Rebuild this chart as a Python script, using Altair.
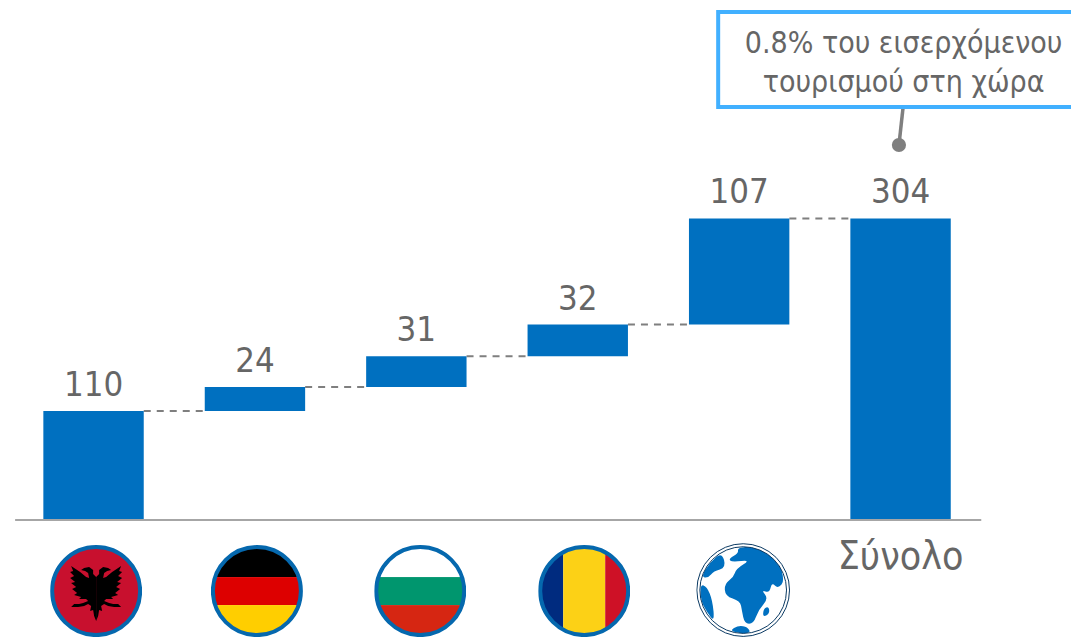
import base64
import altair as alt
import pandas as pd

# --- values ---
categories = ["Αλβανία", "Γερμανία", "Βουλγαρία", "Ρουμανία", "Άλλες", "Σύνολο"]
values = [110, 24, 31, 32, 107, 304]
positions = [0, 1, 2, 3, 4, 5]
BAR_HALF = 0.311
FONT = "DejaVu Sans Condensed"
TEXT = "#666666"
BLUE = "#0070c0"
GREY = "#7f7f7f"

starts, ends, c = [], [], 0
for i, v in enumerate(values):
    if i == len(values) - 1:
        starts.append(0); ends.append(v)
    else:
        starts.append(c); ends.append(c + v); c += v

bars = pd.DataFrame({"c": categories, "pos": positions, "y0": starts, "y1": ends, "v": values})
bars["x0"] = bars.pos - BAR_HALF
bars["x1"] = bars.pos + BAR_HALF

conn = pd.DataFrame({
    "x0": [p + BAR_HALF for p in positions[:-1]],
    "x1": [p + 1 - BAR_HALF for p in positions[:-1]],
    "y": ends[:-1],
})

def svg_uri(body, vb="0 0 92 92"):
    s = f'<svg xmlns="http://www.w3.org/2000/svg" viewBox="{vb}">{body}</svg>'
    return "data:image/svg+xml;base64," + base64.b64encode(s.encode()).decode()

clip = '<defs><clipPath id="c"><circle cx="46" cy="46" r="44"/></clipPath></defs>'
ring = '<circle cx="46" cy="46" r="44" fill="none" stroke="#0568ae" stroke-width="4"/>'
half = ("M46 32 L43 29 L43 25 L39 22 L34 23 L31 25 L35 26 L38 28 L39 33 L36 32 L30 27 L21 21 L23 26 "
        "L20 27 L24 31 L20 33 L25 37 L21 38 L26 42 L22 44 L27 48 L24 50 L31 52 L29 54 L36 54 L38 56 "
        "L33 58 L29 59 L24 59 L21 62 L28 62 L34 61 L38 59 L41 61 L40 66 L43 65 L44 71 L46 76 Z")
albania = (f'{clip}<circle cx="46" cy="46" r="44" fill="#c8102e"/>'
           f'<path d="{half}" fill="#000"/><path d="{half}" fill="#000" transform="translate(92,0) scale(-1,1)"/>{ring}')
def hstripes(a, b, d):
    return (f'{clip}<g clip-path="url(#c)"><rect width="92" height="32" fill="{a}"/>'
            f'<rect y="32" width="92" height="28" fill="{b}"/><rect y="60" width="92" height="32" fill="{d}"/></g>{ring}')
germany = hstripes("#000000", "#dd0000", "#ffce00")
bulgaria = hstripes("#ffffff", "#00966e", "#d62612")
romania = (f'{clip}<g clip-path="url(#c)"><rect width="25" height="92" fill="#002b7f"/>'
           f'<rect x="25" width="42" height="92" fill="#fcd116"/><rect x="67" width="25" height="92" fill="#ce1126"/></g>{ring}')
lands = [[(772,52),(820,48),(885,62),(915,150),(893,175),(875,155),(868,188),(843,178),(865,205),(835,238),(820,280),
          (793,280),(785,240),(780,212),(735,197),(733,160),(760,140),(768,115),(812,88),(755,95),(745,85),(775,68)],
         [(725,66),(738,112),(700,122),(685,142),(662,140),(690,95)],
         [(660,162),(680,168),(697,210),(703,275),(680,245),(662,210)],
         [(748,300),(775,285),(802,290),(812,308),(780,310)],
         [(850,235),(866,228),(868,250),(848,260)]]
def smooth(pts):
    n = len(pts)
    mid = lambda a, b: ((a[0] + b[0]) / 2, (a[1] + b[1]) / 2)
    m0 = mid(pts[-1], pts[0])
    d = f"M{m0[0]} {m0[1]}"
    for i in range(n):
        m = mid(pts[i], pts[(i + 1) % n])
        d += f" Q{pts[i][0]} {pts[i][1]} {m[0]} {m[1]}"
    return d + " Z"
globe = ('<circle cx="789" cy="179" r="139" fill="#fff" stroke="#0b3a63" stroke-width="3"/>'
         '<defs><clipPath id="g"><circle cx="789" cy="179" r="130"/></clipPath></defs><g clip-path="url(#g)">'
         + "".join(f'<path d="{smooth(p)}" fill="{BLUE}"/>' for p in lands)
         + '</g><circle cx="789" cy="179" r="130" fill="none" stroke="#0b3a63" stroke-width="3"/>')

flags = pd.DataFrame({
    "x": [0.016, 1.012, 2.024, 3.04],
    "y": [-71.6, -71.6, -71.6, -71.6],
    "u": [svg_uri(albania), svg_uri(germany), svg_uri(bulgaria), svg_uri(romania)],
})
world = pd.DataFrame({"x": [4.025], "y": [-70.6], "u": [svg_uri(globe, "648 38 282 282")]})

x_scale = alt.Scale(domain=[-0.53, 6.056], nice=False, zero=False)
y_scale = alt.Scale(domain=[-117.9, 516.1], nice=False, zero=False)
X = lambda f: alt.X(f, type="quantitative", scale=x_scale, axis=None)
Y = lambda f: alt.Y(f, type="quantitative", scale=y_scale, axis=None)

bar = alt.Chart(bars).mark_rect(color=BLUE).encode(X("x0:Q"), x2="x1:Q", y=Y("y0:Q"), y2="y1:Q")
connectors = alt.Chart(conn).mark_rule(color=GREY, strokeWidth=2, strokeDash=[7, 6]).encode(X("x0:Q"), x2="x1:Q", y=Y("y:Q"))
base = alt.Chart(pd.DataFrame({"a": [-0.486], "b": [5.5], "y": [0]})).mark_rule(color="#a6a6a6", strokeWidth=2).encode(
    X("a:Q"), x2="b:Q", y=Y("y:Q"))
labels = alt.Chart(bars).mark_text(font=FONT, fontSize=34.5, color=TEXT, baseline="alphabetic", dy=-15).encode(
    X("pos:Q"), y=Y("y1:Q"), text="v:Q")
total = alt.Chart(pd.DataFrame({"x": [5.0], "y": [-49.4], "t": ["Σύνολο"]})).mark_text(
    font=FONT, fontSize=39, color=TEXT, baseline="alphabetic").encode(X("x:Q"), y=Y("y:Q"), text="t:N")
img = alt.Chart(flags).mark_image(width=92, height=92).encode(X("x:Q"), y=Y("y:Q"), url="u:N")
img2 = alt.Chart(world).mark_image(width=94, height=94).encode(X("x:Q"), y=Y("y:Q"), url="u:N")

stem = alt.Chart(pd.DataFrame({"x": [5.015, 4.99], "y": [415, 378]})).mark_line(color=GREY, strokeWidth=3.5).encode(
    X("x:Q"), y=Y("y:Q"))
dot = alt.Chart(pd.DataFrame({"x": [4.99], "y": [378]})).mark_point(filled=True, color=GREY, size=201, opacity=1).encode(
    X("x:Q"), y=Y("y:Q"))
box = alt.Chart(pd.DataFrame({"a": [3.87], "b": [6.3], "y0": [512], "y1": [416.3]})).mark_rect(
    fill="white", stroke="#41b0ff", strokeWidth=4, clip=True).encode(X("a:Q"), x2="b:Q", y=Y("y0:Q"), y2="y1:Q")
note = alt.Chart(pd.DataFrame({"x": [5.019, 5.019], "y": [470.8, 431.5],
                               "t": ["0.8% του εισερχόμενου", "τουρισμού στη χώρα"]})).mark_text(
    font=FONT, fontSize=30, color=TEXT, baseline="alphabetic").encode(X("x:Q"), y=Y("y:Q"), text="t:N")

chart = alt.layer(connectors, bar, base, labels, total, img, img2, stem, dot, box, note).properties(
    width=1063, height=629, padding=0, autosize=alt.AutoSizeParams(type="none")
).configure_view(stroke=None)
chart.save("out.html", embed_options={"renderer": "svg", "actions": False})
